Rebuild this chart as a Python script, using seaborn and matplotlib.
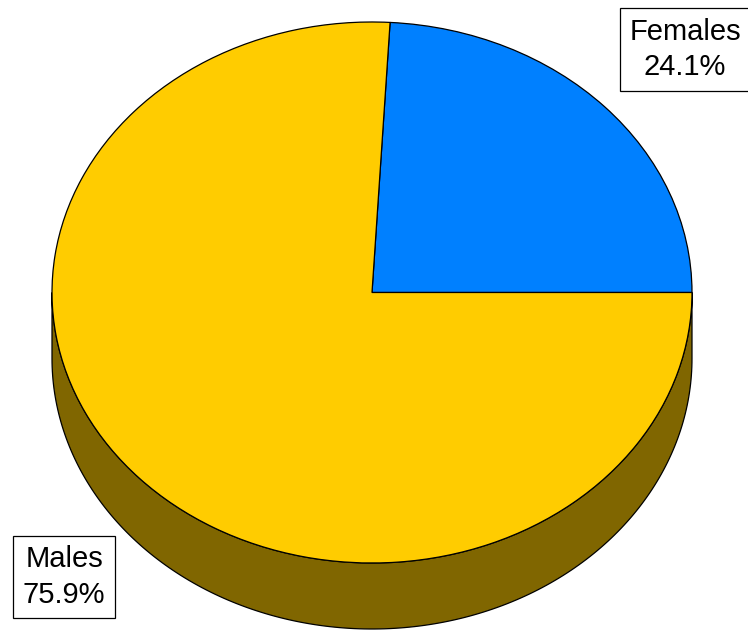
import matplotlib
matplotlib.use("Agg")
import matplotlib.pyplot as plt
import numpy as np
import seaborn as sns

# Data
labels = ["Females", "Males"]
shares = [24.1, 75.9]
colors = ["#0080FF", "#FFCC00"]
side_colors = ["#004080", "#806600"]

sns.set_theme(style="white")
plt.rcParams["font.family"] = ["Liberation Sans", "DejaVu Sans"]

fig = plt.figure(figsize=(7.48, 6.31), dpi=100)
ax = fig.add_axes([0, 0, 1, 1])

depth = 0.244

# Side of the 3D pie (only the front half is visible)
bounds = np.concatenate([[0], np.cumsum(shares)]) / sum(shares) * 360
for i in range(len(shares)):
    a0 = max(bounds[i], 180)
    a1 = min(bounds[i + 1], 360)
    if a1 <= a0:
        continue
    t = np.radians(np.linspace(a0, a1, 200))
    xs = np.concatenate([np.cos(t), np.cos(t[::-1])])
    ys = np.concatenate([np.sin(t), np.sin(t[::-1]) - depth])
    ax.fill(xs, ys, facecolor=side_colors[i], edgecolor="black",
            linewidth=0.9, zorder=1)

# Top of the pie
ax.pie(shares, colors=colors, startangle=0, counterclock=True,
       wedgeprops=dict(edgecolor="black", linewidth=0.9, zorder=2))

ax.set_aspect("auto")
ax.set_xlim(-1.1625, 1.175)
ax.set_ylim(-1.2514, 1.0813)
ax.axis("off")

# Labels
label_pos = [(0.978, 0.898), (-0.9625, -1.052)]
for lab, val, (x, y) in zip(labels, shares, label_pos):
    ax.text(x, y, f"{lab}\n{val:.1f}%", ha="center", va="center",
            fontsize=21, linespacing=1.35, color="black", zorder=5,
            bbox=dict(boxstyle="square,pad=0.32", facecolor="white",
                      edgecolor="black", linewidth=0.9))

plt.savefig("out.png", dpi=100)
